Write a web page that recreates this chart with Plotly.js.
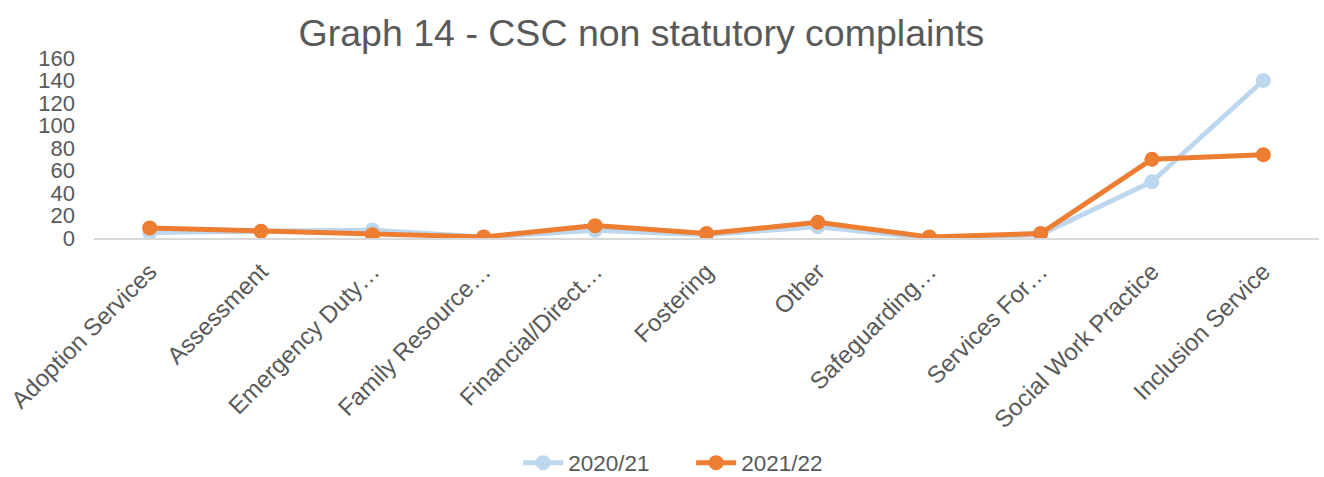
<!DOCTYPE html>
<html>
<head>
<meta charset="utf-8">
<script src="https://cdn.plot.ly/plotly-3.0.1.min.js"></script>
<style>html,body{margin:0;padding:0;background:#fff;}#chart{width:1324px;height:477px;}</style>
</head>
<body>
<div id="chart"></div>
<script>
const categories = ["Adoption Services","Assessment","Emergency Duty…","Family Resource…","Financial/Direct…","Fostering","Other","Safeguarding…","Services For…","Social Work Practice","Inclusion Service"];
const series2021 = [5, 6, 7, 1, 7, 3, 10, 0, 3, 50, 140];
const series2022 = [9, 6, 3, 1, 11, 4, 14, 1, 4, 70, 74];
const yTicks = [0, 20, 40, 60, 80, 100, 120, 140, 160];

const font = {family: "Liberation Sans, Arial, sans-serif", color: "#595959"};
const traces = [
  {x: categories, y: series2021, name: "2020/21", type: "scatter", mode: "lines+markers",
   line: {color: "#BDD7EE", width: 5}, marker: {color: "#BDD7EE", size: 15}},
  {x: categories, y: series2022, name: "2021/22", type: "scatter", mode: "lines+markers",
   line: {color: "#ED7D31", width: 5}, marker: {color: "#ED7D31", size: 15}}
];
const layout = {
  width: 1324, height: 477,
  margin: {l: 94, r: 5, t: 58, b: 239, autoexpand: false},
  paper_bgcolor: "#fff", plot_bgcolor: "#fff",
  font: font,
  title: {text: "Graph 14 - CSC non statutory complaints", font: {family: font.family, color: "#595959", size: 37.5},
          x: 0.4845, xref: "container", xanchor: "center", y: 1 - 33/477, yref: "container", yanchor: "middle"},
  xaxis: {type: "category", tickangle: -45, tickfont: {size: 24, color: "#595959"},
          showgrid: false, zeroline: false, showline: true, linecolor: "#D9D9D9", linewidth: 2,
          ticks: "", ticklabelstandoff: 8, range: [-0.5, categories.length - 0.5], fixedrange: true},
  yaxis: {range: [0, 160], tickvals: yTicks, tickfont: {size: 22, color: "#595959"},
          showgrid: false, zeroline: false, showline: false, ticks: "", ticklabelstandoff: 18, fixedrange: true},
  showlegend: true,
  legend: {orientation: "h", x: 0.522, xref: "container", xanchor: "center", y: (238 - 463) / 180, yref: "paper", yanchor: "middle",
           font: {size: 22.5, color: "#595959"}, entrywidth: 118, entrywidthmode: "pixels", itemwidth: 40},
};
Plotly.newPlot("chart", traces, layout, {displayModeBar: false, staticPlot: true});
</script>
</body>
</html>
